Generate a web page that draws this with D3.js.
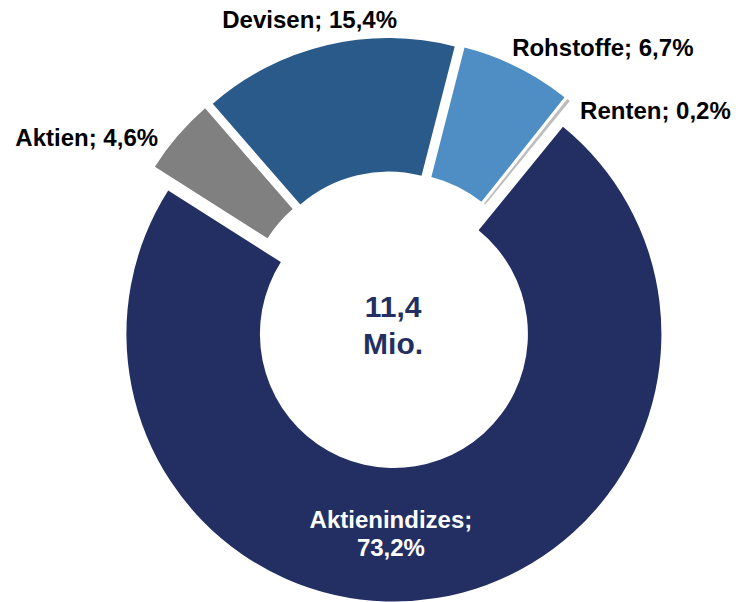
<!DOCTYPE html>
<html>
<head>
<meta charset="utf-8">
<script src="https://cdn.jsdelivr.net/npm/d3@7"></script>
<style>
  html, body { margin: 0; padding: 0; background: #fff; }
  svg { display: block; font-family: "Liberation Sans", Arial, sans-serif; }
</style>
</head>
<body>
<svg width="736" height="602"></svg>
<script>
// slice data (order as drawn clockwise, starting at Aktienindizes)
var categories = ["Aktienindizes", "Aktien", "Devisen", "Rohstoffe", "Renten"];
var shares = [73.2, 4.6, 15.4, 6.7, 0.2];
var valueLabels = ["73,2%", "4,6%", "15,4%", "6,7%", "0,2%"];
var totalLabel = ["11,4", "Mio."];

var colors = ["#232f62", "#808080", "#2a5a8a", "#4e8ec5", "#bdbdbd"];

var svg = d3.select("svg"),
    width = +svg.attr("width"),
    height = +svg.attr("height");

var cx = 391.6, cy = 319.7,
    outerR = 267.5, innerR = 134,
    explode = 14.5;

var data = categories.map(function(c, i) {
    return {name: c, value: shares[i], label: valueLabels[i], color: colors[i]};
});

var start = 39.2 * Math.PI / 180;
var pie = d3.pie()
    .sort(null)
    .value(function(d) { return d.value; })
    .startAngle(start)
    .endAngle(start + 2 * Math.PI);

var arc = d3.arc().innerRadius(innerR).outerRadius(outerR);
var arcs = pie(data);

function offset(d, r) {
    var a = (d.startAngle + d.endAngle) / 2;
    return [Math.sin(a) * r, -Math.cos(a) * r];
}

var g = svg.append("g").attr("transform", "translate(" + cx + "," + cy + ")");

g.selectAll("path")
    .data(arcs)
    .enter()
    .append("path")
    .attr("d", arc)
    .attr("fill", function(d) { return d.data.color; })
    .attr("transform", function(d) {
        var o = offset(d, explode);
        return "translate(" + o[0] + "," + o[1] + ")";
    });

// outside labels: anchored just outside each slice, nudged like the original
var nudge = {
    "Aktien":    {dx: -13, dy: 16, anchor: "end"},
    "Devisen":   {dx: -15, dy: -9, anchor: "middle"},
    "Rohstoffe": {dx: -9,  dy: -3, anchor: "start"},
    "Renten":    {dx: 6,   dy: 26, anchor: "start"}
};

g.selectAll("text.outer")
    .data(arcs.filter(function(d) { return nudge[d.data.name]; }))
    .enter()
    .append("text")
    .attr("class", "outer")
    .attr("x", function(d) { return offset(d, outerR + explode + 9)[0] + nudge[d.data.name].dx; })
    .attr("y", function(d) { return offset(d, outerR + explode + 9)[1] + nudge[d.data.name].dy; })
    .attr("text-anchor", function(d) { return nudge[d.data.name].anchor; })
    .style("font-size", "24px")
    .style("font-weight", "bold")
    .style("fill", "#000")
    .text(function(d) { return d.data.name + "; " + d.data.label; });

// inside label for the big slice
var big = arcs[0];
var bo = offset(big, explode), bc = arc.centroid(big);
var lx = bo[0] + bc[0] - 35;
var inner = g.append("text")
    .attr("text-anchor", "middle")
    .attr("x", lx)
    .attr("y", bo[1] + bc[1] - 4)
    .style("font-size", "24px")
    .style("font-weight", "bold")
    .style("fill", "#fff");
inner.append("tspan").attr("x", lx).text(big.data.name + ";");
inner.append("tspan").attr("x", lx).attr("dy", 28).text(big.data.label);

// total in the hole
var center = g.append("text")
    .attr("text-anchor", "middle")
    .attr("x", 1.5)
    .attr("y", -3)
    .style("font-size", "30px")
    .style("font-weight", "bold")
    .style("fill", "#232f62");
center.append("tspan").attr("x", 1.5).text(totalLabel[0]);
center.append("tspan").attr("x", 1.5).attr("dy", 37.5).text(totalLabel[1]);
</script>
</body>
</html>
